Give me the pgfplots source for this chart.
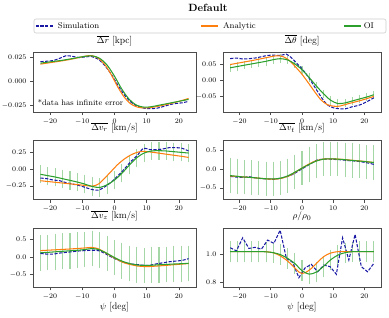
\documentclass[border=0pt]{standalone}
\usepackage{pgfplots}
\pgfplotsset{compat=1.18}
\definecolor{simblue}{RGB}{25,25,165}
\definecolor{anorange}{RGB}{255,127,14}
\definecolor{oigreen}{RGB}{44,160,44}
\definecolor{errgreen}{RGB}{165,214,165}
\tikzset{
  sim/.style={draw=simblue, line width=1.05pt, dash pattern=on 3.2pt off 1.5pt},
  ana/.style={draw=anorange, line width=1.05pt},
  oi/.style={draw=oigreen, line width=1.05pt},
}
\pgfplotsset{
  panel/.style={scale only axis, height=59.5pt, xmin=-25.3, xmax=25.3,
    xtick={-20,-10,0,10,20}, tick align=outside, tick pos=left,
    major tick length=3pt,
    axis line style={black!70, line width=0.6pt},
    every tick/.style={black!70, line width=0.6pt},
    ticklabel style={font=\fontsize{7}{8}\selectfont},
    title style={font=\fontsize{9.5}{11}\selectfont, at={(0.5,1)}, anchor=base, yshift=3.2pt},
    scaled y ticks=false,
  },
  lcol/.style={panel, width=163pt},
  rcol/.style={panel, width=158pt},
  oierr/.style={draw=none, mark=none, forget plot, error bars/.cd, y dir=both, y explicit, error mark=none, error bar style={draw=errgreen, line width=1.1pt, solid}},
}
\begin{document}
\begin{tikzpicture}
\useasboundingbox (0pt,0pt) rectangle (389pt,317pt);
\node[font=\bfseries\fontsize{10.5}{12}\selectfont] at (208pt,309pt) {Default};

% ---------- Panel 1: Delta r
\begin{axis}[lcol, at={(33pt,205pt)}, anchor=south west,
  title={$\overline{\Delta r}$ [kpc]},
  ymin=-0.032, ymax=0.0295, ytick={-0.025,0,0.025},
  yticklabel style={/pgf/number format/fixed, /pgf/number format/fixed zerofill, /pgf/number format/precision=3},
  legend columns=3,
  legend style={at={(0.006,1.563)}, anchor=north west, draw=none, fill=none,
    font=\fontsize{8.3}{9}\selectfont, inner xsep=1pt, inner ysep=1pt},
]
\addlegendimage{legend image code/.code={\draw[simblue, line width=1.2pt, dash pattern=on 3.2pt off 1.5pt] (0pt,0pt) -- (17pt,0pt);}}
\addlegendentry[text width=143pt, align=left]{\hspace*{2.5pt}Simulation}
\addlegendimage{legend image code/.code={\draw[anorange, line width=1.2pt] (0pt,0pt) -- (17pt,0pt);}}
\addlegendentry[text width=121pt, align=left]{\hspace*{2.5pt}Analytic}
\addlegendimage{legend image code/.code={\draw[oigreen, line width=1.2pt] (0pt,0pt) -- (17pt,0pt);}}
\addlegendentry{OI}
\addplot[sim, smooth, forget plot] coordinates {(-23,0.0200) (-21,0.0205) (-19,0.0212) (-17,0.0235) (-15,0.0262) (-13,0.0255) (-11,0.0243) (-9,0.0250) (-7,0.0252) (-5,0.0225) (-3,0.0160) (-1,0.0070) (1,-0.0040) (3,-0.0140) (5,-0.0215) (7,-0.0260) (9,-0.0280) (11,-0.0285) (13,-0.0282) (15,-0.0265) (17,-0.0245) (19,-0.0232) (21,-0.0225) (23,-0.0210)};
\addplot[ana, smooth, forget plot] coordinates {(-23,0.0175) (-20,0.0190) (-17,0.0205) (-14,0.0222) (-11,0.0243) (-9,0.0258) (-7,0.0262) (-5,0.0235) (-3,0.0170) (-1,0.0065) (1,-0.0060) (3,-0.0165) (5,-0.0235) (7,-0.0268) (9,-0.0278) (11,-0.0275) (14,-0.0258) (17,-0.0235) (20,-0.0210) (23,-0.0180)};
\addplot[oi, smooth, forget plot] table {
x y
-23 0.0185
-20.7 0.0195
-18.4 0.0205
-16.1 0.0215
-13.8 0.0228
-11.5 0.0242
-9.2 0.0255
-6.9 0.0260
-4.6 0.0235
-2.3 0.0165
0 0.0050
2.3 -0.0085
4.6 -0.0190
6.9 -0.0250
9.2 -0.0270
11.5 -0.0265
13.8 -0.0250
16.1 -0.0235
18.4 -0.0220
20.7 -0.0205
23 -0.0190
};
\node[anchor=base west, font=\fontsize{8}{9}\selectfont, inner sep=0pt] at (rel axis cs:0.028,0.115) {*data has infinite error};
\end{axis}
\draw[black!20, line width=0.6pt, rounded corners=2pt] (34pt,284pt) rectangle (386pt,298pt);

% ---------- Panel 2: Delta theta
\begin{axis}[rcol, at={(223pt,205pt)}, anchor=south west,
  title={$\overline{\Delta\theta}$ [deg]},
  ymin=-0.098, ymax=0.085, ytick={-0.05,0,0.05},
  yticklabel style={/pgf/number format/fixed, /pgf/number format/fixed zerofill, /pgf/number format/precision=2},
]
\addplot[oierr] table[x index=0, y index=1, y error index=2] {
x y e
-23 0.038 0.013
-20.7 0.042 0.013
-18.4 0.046 0.013
-16.1 0.050 0.013
-13.8 0.054 0.013
-11.5 0.058 0.013
-9.2 0.063 0.013
-6.9 0.066 0.013
-4.6 0.062 0.013
-2.3 0.050 0.013
0 0.032 0.013
2.3 0.008 0.013
4.6 -0.018 0.013
6.9 -0.042 0.013
9.2 -0.062 0.013
11.5 -0.072 0.013
13.8 -0.070 0.013
16.1 -0.064 0.013
18.4 -0.058 0.013
20.7 -0.052 0.013
23 -0.045 0.013
};
\addplot[sim, smooth] coordinates {(-23,0.066) (-21,0.068) (-19,0.065) (-17,0.066) (-15,0.068) (-13,0.072) (-11,0.076) (-9,0.077) (-7,0.076) (-5,0.080) (-4,0.074) (-2,0.055) (0,0.035) (2,0.010) (4,-0.020) (6,-0.050) (8,-0.075) (10,-0.085) (12,-0.088) (14,-0.088) (16,-0.082) (18,-0.078) (20,-0.070) (22,-0.060) (23,-0.054)};
\addplot[ana, smooth] coordinates {(-23,0.048) (-19,0.055) (-15,0.062) (-12,0.068) (-10,0.072) (-8,0.075) (-6,0.072) (-4,0.060) (-2,0.040) (0,0.018) (2,-0.008) (4,-0.035) (6,-0.060) (8,-0.075) (10,-0.080) (12,-0.080) (15,-0.072) (19,-0.062) (23,-0.050)};
\addplot[oi, smooth] table {
x y
-23 0.038
-20.7 0.042
-18.4 0.046
-16.1 0.050
-13.8 0.054
-11.5 0.058
-9.2 0.063
-6.9 0.066
-4.6 0.062
-2.3 0.050
0 0.032
2.3 0.008
4.6 -0.018
6.9 -0.042
9.2 -0.062
11.5 -0.072
13.8 -0.070
16.1 -0.064
18.4 -0.058
20.7 -0.052
23 -0.045
};
\end{axis}

% ---------- Panel 3: Delta v_r
\begin{axis}[lcol, at={(33pt,117.5pt)}, anchor=south west,
  title={$\overline{\Delta v_r}$ [km/s]},
  ymin=-0.448, ymax=0.433, ytick={-0.25,0,0.25},
  yticklabel style={/pgf/number format/fixed, /pgf/number format/fixed zerofill, /pgf/number format/precision=2},
]
\addplot[oierr] table[x index=0, y index=1, y error index=2] {
x y e
-23 -0.075 0.135
-20.7 -0.095 0.135
-18.4 -0.115 0.135
-16.1 -0.140 0.135
-13.8 -0.165 0.135
-11.5 -0.190 0.135
-9.2 -0.220 0.135
-6.9 -0.255 0.135
-4.6 -0.270 0.135
-2.3 -0.230 0.135
0 -0.160 0.135
2.3 -0.060 0.135
4.6 0.060 0.135
6.9 0.170 0.135
9.2 0.240 0.135
11.5 0.270 0.135
13.8 0.275 0.135
16.1 0.270 0.135
18.4 0.260 0.135
20.7 0.250 0.135
23 0.240 0.135
};
\addplot[sim, smooth] coordinates {(-23,-0.13) (-21,-0.14) (-19,-0.16) (-17,-0.17) (-15,-0.20) (-13,-0.22) (-11,-0.24) (-9,-0.27) (-7,-0.30) (-5,-0.31) (-3,-0.26) (-1,-0.19) (1,-0.10) (3,0.00) (5,0.11) (7,0.20) (9,0.31) (11,0.29) (13,0.29) (15,0.30) (17,0.32) (19,0.32) (21,0.31) (23,0.27)};
\addplot[ana, smooth] coordinates {(-23,-0.17) (-20,-0.185) (-15,-0.21) (-10,-0.235) (-7,-0.25) (-5,-0.22) (-3,-0.13) (-1,-0.03) (1,0.07) (3,0.15) (5,0.21) (7,0.25) (9,0.265) (12,0.25) (15,0.23) (18,0.21) (21,0.19) (23,0.175)};
\addplot[oi, smooth] table {
x y
-23 -0.075
-20.7 -0.095
-18.4 -0.115
-16.1 -0.140
-13.8 -0.165
-11.5 -0.190
-9.2 -0.220
-6.9 -0.255
-4.6 -0.270
-2.3 -0.230
0 -0.160
2.3 -0.060
4.6 0.060
6.9 0.170
9.2 0.240
11.5 0.270
13.8 0.275
16.1 0.270
18.4 0.260
20.7 0.250
23 0.240
};
\end{axis}

% ---------- Panel 4: Delta v_t
\begin{axis}[rcol, at={(223pt,117.5pt)}, anchor=south west,
  title={$\overline{\Delta v_t}$ [km/s]},
  ymin=-0.81, ymax=0.783, ytick={-0.5,0,0.5},
  yticklabel style={/pgf/number format/fixed, /pgf/number format/fixed zerofill, /pgf/number format/precision=1},
]
\addplot[oierr] table[x index=0, y index=1, y error index=2] {
x y e
-23 -0.17 0.46
-20.7 -0.19 0.46
-18.4 -0.21 0.46
-16.1 -0.22 0.46
-13.8 -0.24 0.46
-11.5 -0.255 0.46
-9.2 -0.26 0.46
-6.9 -0.24 0.46
-4.6 -0.18 0.46
-2.3 -0.08 0.46
0 0.03 0.46
2.3 0.13 0.46
4.6 0.22 0.46
6.9 0.27 0.46
9.2 0.28 0.46
11.5 0.27 0.46
13.8 0.255 0.46
16.1 0.235 0.46
18.4 0.22 0.46
20.7 0.20 0.46
23 0.18 0.46
};
\addplot[sim, smooth] coordinates {(-23,-0.19) (-21,-0.21) (-19,-0.22) (-17,-0.20) (-15,-0.23) (-13,-0.25) (-11,-0.26) (-9,-0.27) (-7,-0.24) (-5,-0.20) (-3,-0.14) (-1,-0.04) (1,0.06) (3,0.16) (5,0.25) (7,0.27) (9,0.27) (11,0.26) (13,0.25) (15,0.23) (17,0.22) (19,0.20) (21,0.17) (23,0.13)};
\addplot[ana, smooth] coordinates {(-23,-0.18) (-15,-0.23) (-10,-0.265) (-7,-0.25) (-4,-0.17) (-2,-0.07) (0,0.03) (2,0.13) (4,0.21) (6,0.26) (8,0.28) (12,0.27) (16,0.24) (20,0.21) (23,0.18)};
\addplot[oi, smooth] table {
x y
-23 -0.17
-20.7 -0.19
-18.4 -0.21
-16.1 -0.22
-13.8 -0.24
-11.5 -0.255
-9.2 -0.26
-6.9 -0.24
-4.6 -0.18
-2.3 -0.08
0 0.03
2.3 0.13
4.6 0.22
6.9 0.27
9.2 0.28
11.5 0.27
13.8 0.255
16.1 0.235
18.4 0.22
20.7 0.20
23 0.18
};
\end{axis}

% ---------- Panel 5: Delta v_z
\begin{axis}[lcol, at={(33pt,29.7pt)}, anchor=south west,
  title={$\overline{\Delta v_z}$ [km/s]},
  xlabel={$\psi$ [deg]},
  xlabel style={font=\fontsize{9.5}{11}\selectfont, at={(0.5,0)}, anchor=base, yshift=-22pt},
  ymin=-0.871, ymax=0.833, ytick={-0.5,0,0.5},
  yticklabel style={/pgf/number format/fixed, /pgf/number format/fixed zerofill, /pgf/number format/precision=1},
]
\addplot[oierr] table[x index=0, y index=1, y error index=2] {
x y e
-23 0.12 0.51
-20.7 0.13 0.51
-18.4 0.145 0.51
-16.1 0.16 0.51
-13.8 0.175 0.51
-11.5 0.19 0.51
-9.2 0.21 0.51
-6.9 0.24 0.51
-4.6 0.20 0.51
-2.3 0.10 0.51
0 -0.02 0.51
2.3 -0.12 0.51
4.6 -0.19 0.51
6.9 -0.23 0.51
9.2 -0.245 0.51
11.5 -0.24 0.51
13.8 -0.225 0.51
16.1 -0.215 0.51
18.4 -0.205 0.51
20.7 -0.195 0.51
23 -0.185 0.51
};
\addplot[sim, smooth] coordinates {(-23,0.10) (-21,0.08) (-19,0.08) (-17,0.11) (-15,0.13) (-13,0.15) (-11,0.17) (-9,0.18) (-7,0.19) (-5,0.18) (-3,0.10) (-1,0.00) (1,-0.09) (3,-0.16) (5,-0.20) (7,-0.22) (9,-0.24) (11,-0.24) (13,-0.20) (15,-0.17) (17,-0.14) (19,-0.12) (21,-0.10) (23,-0.05)};
\addplot[ana, smooth] coordinates {(-23,0.18) (-15,0.22) (-10,0.25) (-7,0.27) (-5,0.23) (-3,0.13) (-1,0.02) (1,-0.08) (3,-0.17) (5,-0.22) (7,-0.26) (9,-0.275) (11,-0.275) (15,-0.25) (19,-0.22) (23,-0.19)};
\addplot[oi, smooth] table {
x y
-23 0.12
-20.7 0.13
-18.4 0.145
-16.1 0.16
-13.8 0.175
-11.5 0.19
-9.2 0.21
-6.9 0.24
-4.6 0.20
-2.3 0.10
0 -0.02
2.3 -0.12
4.6 -0.19
6.9 -0.23
9.2 -0.245
11.5 -0.24
13.8 -0.225
16.1 -0.215
18.4 -0.205
20.7 -0.195
23 -0.185
};
\end{axis}

% ---------- Panel 6: rho/rho0
\begin{axis}[rcol, at={(223pt,29.7pt)}, anchor=south west,
  title={$\rho/\rho_0$},
  xlabel={$\psi$ [deg]},
  xlabel style={font=\fontsize{9.5}{11}\selectfont, at={(0.5,0)}, anchor=base, yshift=-22pt},
  ymin=0.767, ymax=1.188, ytick={0.8,1.0},
  yticklabel style={/pgf/number format/fixed, /pgf/number format/fixed zerofill, /pgf/number format/precision=1},
]
\addplot[oierr] table[x index=0, y index=1, y error index=2] {
x y e
-23 1.02 0.072
-20.7 1.02 0.072
-18.4 1.02 0.072
-16.1 1.02 0.072
-13.8 1.02 0.072
-11.5 1.018 0.072
-9.2 1.012 0.072
-6.9 0.998 0.072
-4.6 0.972 0.072
-2.3 0.935 0.072
0 0.885 0.072
2.3 0.860 0.072
4.6 0.875 0.072
6.9 0.915 0.072
9.2 0.962 0.072
11.5 0.995 0.072
13.8 1.012 0.072
16.1 1.019 0.072
18.4 1.02 0.072
20.7 1.02 0.072
23 1.02 0.072
};
\addplot[sim] coordinates {(-23,1.047) (-21,1.025) (-19,1.117) (-17,1.042) (-15,1.050) (-13,1.037) (-11,1.101) (-9,1.078) (-7,1.171) (-5,0.972) (-3,0.944) (-1,0.835) (1,0.905) (3,0.929) (5,0.877) (7,0.924) (9,0.913) (11,0.859) (13,1.117) (15,0.960) (17,1.141) (19,0.913) (21,0.877) (23,0.936)};
\addplot[ana, smooth] coordinates {(-23,1.02) (-17,1.02) (-13,1.02) (-11,1.018) (-9,1.01) (-7,0.99) (-5,0.96) (-3,0.92) (-1,0.875) (0,0.865) (1,0.87) (3,0.90) (5,0.945) (7,0.985) (9,1.008) (11,1.018) (13,1.02) (18,1.02) (23,1.02)};
\addplot[oi, smooth] table {
x y
-23 1.02
-20.7 1.02
-18.4 1.02
-16.1 1.02
-13.8 1.02
-11.5 1.018
-9.2 1.012
-6.9 0.998
-4.6 0.972
-2.3 0.935
0 0.885
2.3 0.860
4.6 0.875
6.9 0.915
9.2 0.962
11.5 0.995
13.8 1.012
16.1 1.019
18.4 1.02
20.7 1.02
23 1.02
};
\end{axis}
\end{tikzpicture}
\end{document}
